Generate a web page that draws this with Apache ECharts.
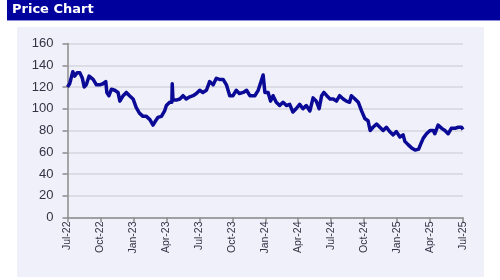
<!DOCTYPE html>
<html><head><meta charset="utf-8">
<script src="https://cdn.jsdelivr.net/npm/echarts@6/dist/echarts.min.js"></script>
<style>html,body{margin:0;padding:0;background:#fff}#c{width:500px;height:280px}</style>
</head><body><div id="c"></div>
<script>
const title = 'Price Chart';
const tickLabels = ['Jul-22','Oct-22','Jan-23','Apr-23','Jul-23','Oct-23','Jan-24','Apr-24','Jul-24','Oct-24','Jan-25','Apr-25','Jul-25'];
const yTicks = [0,20,40,60,80,100,120,140,160];
const dates = [
'2022-07-01','2022-07-07','2022-07-16','2022-07-21','2022-07-28','2022-08-05','2022-08-12','2022-08-17','2022-08-23','2022-08-31',
'2022-09-11','2022-09-20','2022-09-29','2022-10-08','2022-10-16','2022-10-19','2022-10-25','2022-11-01','2022-11-10','2022-11-19',
'2022-11-24','2022-12-03','2022-12-12','2022-12-21','2022-12-31','2023-01-09','2023-01-18','2023-01-28','2023-02-06','2023-02-15',
'2023-02-23','2023-02-28','2023-03-08','2023-03-18','2023-03-27','2023-04-01','2023-04-10','2023-04-16','2023-04-17','2023-04-19',
'2023-04-28','2023-05-08','2023-05-17','2023-05-26','2023-06-05','2023-06-14','2023-06-23','2023-07-02','2023-07-11','2023-07-21',
'2023-07-30','2023-08-09','2023-08-18','2023-08-27','2023-09-06','2023-09-15','2023-09-24','2023-10-03','2023-10-12','2023-10-21',
'2023-11-01','2023-11-10','2023-11-19','2023-12-03','2023-12-12','2023-12-21','2023-12-26','2023-12-31','2024-01-09','2024-01-16',
'2024-01-23','2024-02-01','2024-02-10','2024-02-19','2024-02-28','2024-03-08','2024-03-17','2024-03-26','2024-04-05','2024-04-14',
'2024-04-23','2024-05-03','2024-05-12','2024-05-21','2024-05-29','2024-06-05','2024-06-11','2024-06-19','2024-06-28','2024-07-07',
'2024-07-16','2024-07-25','2024-08-04','2024-08-13','2024-08-22','2024-08-27','2024-09-06','2024-09-15','2024-09-24','2024-10-03',
'2024-10-12','2024-10-18','2024-10-26','2024-11-05','2024-11-14','2024-11-23','2024-12-02','2024-12-11','2024-12-21','2024-12-30',
'2025-01-09','2025-01-18','2025-01-23','2025-02-01','2025-02-10','2025-02-19','2025-02-28','2025-03-05','2025-03-13','2025-03-22',
'2025-04-01','2025-04-10','2025-04-14','2025-04-23','2025-05-03','2025-05-12','2025-05-21','2025-05-30','2025-06-09','2025-06-18',
'2025-06-27','2025-07-01'];
const prices = [
120,123,134,130,133,133,128,120,122,130,
127,122,122,123,125,115,112,118,117,115,
107,112,115,112,109,101,96,93,93,90,
85,88,92,93,98,103,106,106,123,108,
108,109,112,109,111,112,114,117,115,117,
125,122,128,127,127,122,112,112,117,114,
115,117,112,112,117,126,131,115,115,107,
112,106,103,106,103,104,97,100,104,100,
103,98,110,107,100,112,115,112,109,109,
107,112,109,107,106,112,109,106,98,91,
89,80,83,86,83,80,83,79,76,79,
74,76,70,67,64,62,63,67,73,77,
80,80,77,85,82,80,77,82,82,83,
83,81];

function monthsSinceStart(s){
  const [y,m,d] = s.split('-').map(Number);
  const dim = new Date(Date.UTC(y, m, 0)).getUTCDate();
  return (y-2022)*12 + (m-7) + (d-1)/dim;
}
const seriesData = dates.map((d,i)=>[monthsSinceStart(d), prices[i]]);

const chart = echarts.init(document.getElementById('c'), null, {renderer:'canvas'});
chart.setOption({
  animation:false,
  backgroundColor:'#ffffff',
  graphic:[
    {type:'rect', shape:{x:7,y:0,width:493,height:20}, style:{fill:'#00009c'}, z:-10},
    {type:'rect', shape:{x:7,y:20,width:493,height:1}, style:{fill:'#8a8ad8'}, z:-10},
    {type:'rect', shape:{x:17,y:27,width:467,height:250}, style:{fill:'#f0f0fb'}, z:-10},
    {type:'text', left:12, top:3, style:{text:title, fill:'#ffffff', font:'bold 13px "DejaVu Sans", Verdana, sans-serif'}, z:10}
  ],
  grid:{left:67.5, right:37, top:43.5, bottom:62.5, containLabel:false},
  xAxis:{
    type:'value', min:0, max:36, interval:3,
    axisLine:{show:true, lineStyle:{color:'#8c8c8c', width:1.5}},
    axisTick:{show:true, length:5, lineStyle:{color:'#8c8c8c', width:1.5}},
    splitLine:{show:false},
    axisLabel:{rotate:90, margin:4, color:'#333344', fontSize:10.5, fontFamily:'"Liberation Sans", Arial, sans-serif',
      formatter:(v)=>tickLabels[Math.round(v/3)]||''}
  },
  yAxis:{
    type:'value', min:yTicks[0], max:yTicks[yTicks.length-1], interval:20,
    axisLine:{show:true, lineStyle:{color:'#8c8c8c', width:1.5}},
    axisTick:{show:true, length:5, lineStyle:{color:'#8c8c8c', width:1.5}},
    splitLine:{show:true, lineStyle:{color:'#d6d6dc', width:1.5}},
    axisLabel:{margin:14, color:'#333344', fontSize:13, fontFamily:'"Liberation Sans", Arial, sans-serif'}
  },
  series:[{
    type:'line', data:seriesData, showSymbol:false, symbol:'none',
    lineStyle:{color:'#0a0a96', width:3.5, join:'round'}
  }]
});
</script></body></html>
